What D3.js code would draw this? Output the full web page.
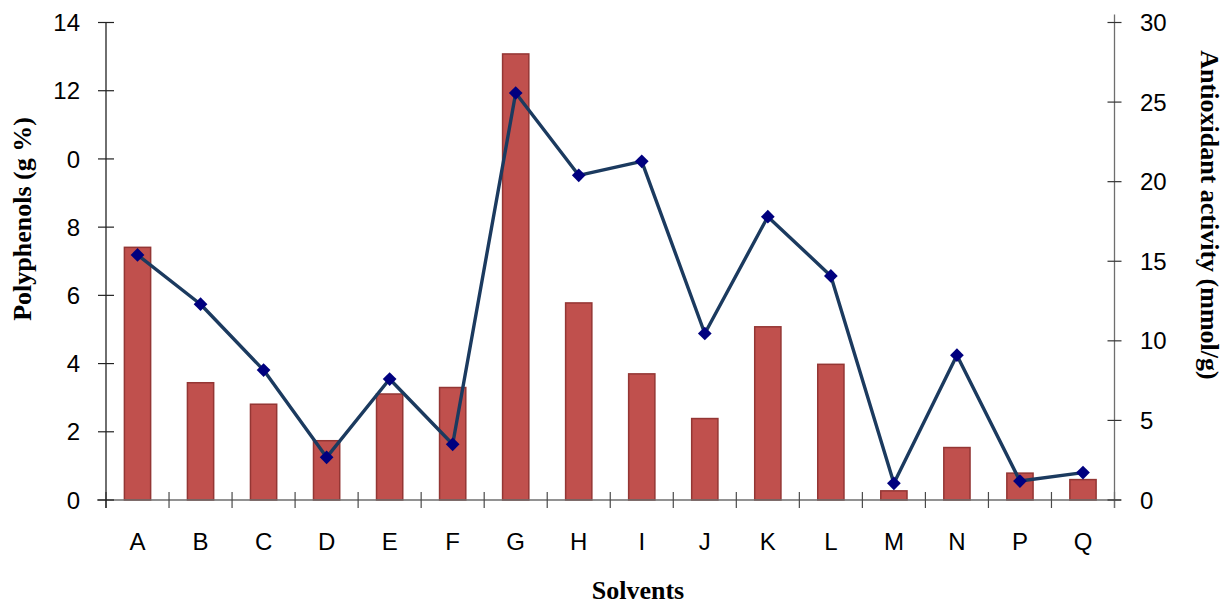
<!DOCTYPE html>
<html><head><meta charset="utf-8">
<script src="https://cdn.jsdelivr.net/npm/d3@7/dist/d3.min.js"></script>
<style>body{margin:0;background:#fff}svg{display:block}</style>
</head><body>
<svg id="c" width="1225" height="604"></svg>
<script>
const categories = ["A","B","C","D","E","F","G","H","I","J","K","L","M","N","P","Q"];
const polyphenols = [7.43,3.46,2.83,1.76,3.13,3.32,13.1,5.8,3.72,2.41,5.1,4.0,0.29,1.56,0.81,0.62];
const antioxidant = [15.4,12.3,8.16,2.68,7.6,3.5,25.57,20.4,21.28,10.46,17.8,14.08,1.05,9.1,1.19,1.72];
const leftTicks = [0,2,4,6,8,10,12,14];
const leftTickLabels = ["0","2","4","6","8","0","12","14"];
const rightTicks = [0,5,10,15,20,25,30];

const svg = d3.select("#c");
const x0 = 106, x1 = 1114.5, yBottom = 500, yTop = 22.5;

const x = d3.scaleBand().domain(categories).range([x0,x1]).paddingInner(0.56).paddingOuter(0.28);
const xb = d3.scaleBand().domain(categories).range([x0,x1]);
const yL = d3.scaleLinear().domain([0,14]).range([yBottom,yTop]);
const yR = d3.scaleLinear().domain([0,30]).range([yBottom,yTop]);

// bars
svg.append("g").selectAll("rect").data(categories).join("rect")
  .attr("x", d=>x(d)+0.75)
  .attr("y", (d,i)=>yL(polyphenols[i])+0.75)
  .attr("width", x.bandwidth()-1.5)
  .attr("height", (d,i)=>yBottom-yL(polyphenols[i])-0.75)
  .attr("fill","#C0504D").attr("stroke","#943634").attr("stroke-width",1.5);

// x axis
const gx = svg.append("g").attr("transform",`translate(0,${yBottom})`);
gx.append("line").attr("x1",97).attr("x2",1121).attr("y1",0).attr("y2",0).attr("stroke","#6e6e6e").attr("stroke-width",1.3);
const bounds = categories.map(d=>xb(d)).concat([x1]);
gx.selectAll("line.t").data(bounds).join("line").attr("class","t")
  .attr("x1",d=>d).attr("x2",d=>d).attr("y1",-8).attr("y2",8).attr("stroke","#4a4a4a").attr("stroke-width",1.2);
gx.selectAll("text").data(categories).join("text")
  .attr("x",d=>xb(d)+xb.bandwidth()/2).attr("y",50)
  .attr("text-anchor","middle").attr("font-family","Liberation Sans, Arial, sans-serif").attr("font-size",24)
  .text(d=>d);

// left axis
const gl = svg.append("g");
gl.append("line").attr("x1",x0).attr("x2",x0).attr("y1",yTop).attr("y2",yBottom+8).attr("stroke","#222").attr("stroke-width",1.3);
gl.selectAll("line.t").data(leftTicks).join("line").attr("class","t")
  .attr("x1",98).attr("x2",114).attr("y1",d=>yL(d)).attr("y2",d=>yL(d)).attr("stroke","#222").attr("stroke-width",1.2);
gl.selectAll("text").data(leftTicks).join("text")
  .attr("x",80).attr("y",d=>yL(d)).attr("dy","0.36em")
  .attr("text-anchor","end").attr("font-family","Liberation Sans, Arial, sans-serif").attr("font-size",24)
  .text((d,i)=>leftTickLabels[i]);

// right axis
const gr = svg.append("g");
gr.append("line").attr("x1",x1).attr("x2",x1).attr("y1",yTop-8).attr("y2",yBottom+8).attr("stroke","#6e6e6e").attr("stroke-width",1.3);
gr.selectAll("line.t").data(rightTicks).join("line").attr("class","t")
  .attr("x1",x1-7).attr("x2",x1+7).attr("y1",d=>yR(d)).attr("y2",d=>yR(d)).attr("stroke","#333").attr("stroke-width",1.2);
gr.selectAll("text").data(rightTicks).join("text")
  .attr("x",1140).attr("y",d=>yR(d)).attr("dy","0.36em")
  .attr("text-anchor","start").attr("font-family","Liberation Sans, Arial, sans-serif").attr("font-size",24)
  .text(d=>d);

// line
const cx = (d)=>xb(d)+xb.bandwidth()/2;
const line = d3.line().x((v,i)=>cx(categories[i])).y(v=>yR(v));
svg.append("path").datum(antioxidant).attr("d",line)
  .attr("fill","none").attr("stroke","#1B3A5F").attr("stroke-width",3.4).attr("stroke-linejoin","round");
svg.append("g").selectAll("path").data(antioxidant).join("path")
  .attr("d", d3.symbol().type(d3.symbolDiamond2).size(120))
  .attr("transform",(v,i)=>`translate(${cx(categories[i])},${yR(v)})`)
  .attr("fill","#00007F");

// titles
svg.append("text").attr("transform","translate(31,219) rotate(-90)")
  .attr("text-anchor","middle").attr("font-family","Liberation Serif, Times New Roman, serif")
  .attr("font-weight","bold").attr("font-size",26).text("Polyphenols (g %)");
svg.append("text").attr("transform","translate(1201,215) rotate(90)")
  .attr("text-anchor","middle").attr("font-family","Liberation Serif, Times New Roman, serif")
  .attr("font-weight","bold").attr("font-size",26).text("Antioxidant activity (mmol/g)");
svg.append("text").attr("x",638).attr("y",599)
  .attr("text-anchor","middle").attr("font-family","Liberation Serif, Times New Roman, serif")
  .attr("font-weight","bold").attr("font-size",26).text("Solvents");
</script>
</body></html>
